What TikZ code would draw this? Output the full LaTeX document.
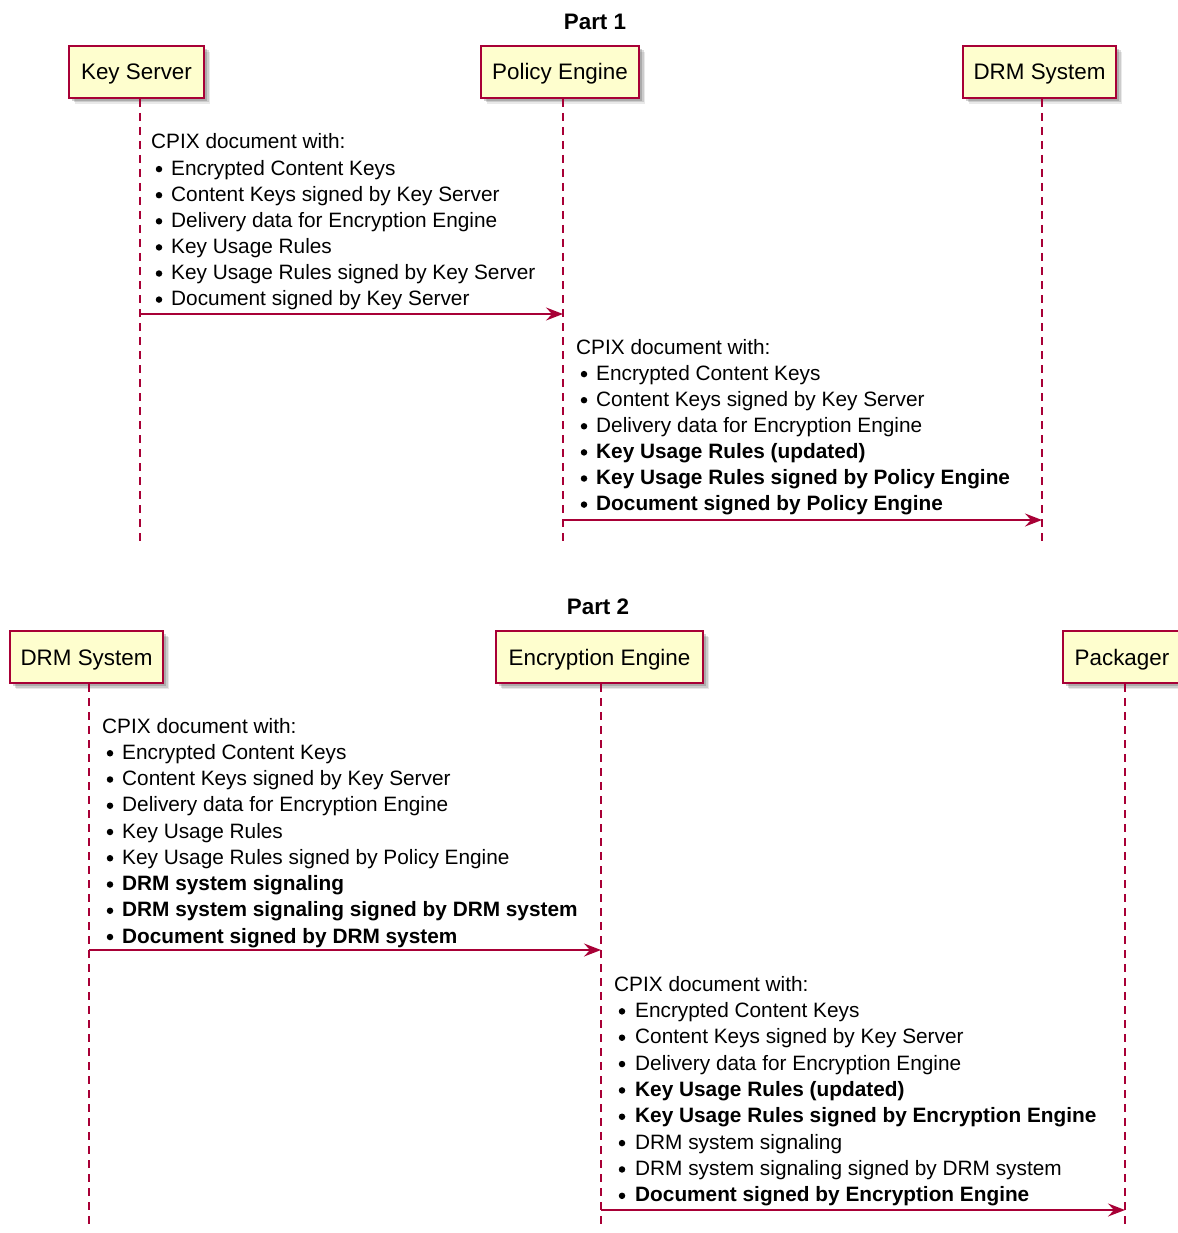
\documentclass[tikz,border=0pt]{standalone}
\usepackage{fontspec}
\setmainfont{Liberation Sans}
\usetikzlibrary{arrows.meta,shadows}
\definecolor{pborder}{HTML}{A80036}
\definecolor{pfill}{HTML}{FEFECE}
\begin{document}
\begin{tikzpicture}[x=1pt,y=-1pt,
 part/.style={draw=pborder, fill=pfill, line width=1.6pt, font=\fontsize{22.4}{26}\selectfont, inner sep=0pt,
   text height=16pt, text depth=0pt,
   drop shadow={shadow xshift=6pt, shadow yshift=-6pt, opacity=0.12, fill=black!70},
   drop shadow={shadow xshift=4.5pt, shadow yshift=-4.5pt, opacity=0.18, fill=black!70},
   drop shadow={shadow xshift=3pt, shadow yshift=-3pt, opacity=0.25, fill=black!70}},
 life/.style={draw=pborder, line width=1.4pt, dash pattern=on 8pt off 6pt},
 msg/.style={draw=pborder, line width=1.6pt, -{Stealth[length=17pt,width=13pt,inset=6pt]}},
 ttl/.style={font=\fontsize{22.4}{26}\selectfont\bfseries, inner sep=0pt},
 ln/.style={anchor=base west, inner sep=0pt, font=\fontsize{20.8}{26}\selectfont},
 bl/.style={anchor=base west, inner sep=0pt, font=\fontsize{20.8}{26}\selectfont\bfseries},
 dot/.style={fill=black, circle, inner sep=0pt, minimum size=6.5pt}
]
\useasboundingbox[fill=white] (0,0) rectangle (1177,1233);

% ---------- Part 1 ----------
\node[ttl] (t1) at (595,22) {Part 1};
\node[part, minimum width=135pt, minimum height=52pt] (ks) at (136.5,72) {Key Server};
\node[part, minimum width=158pt, minimum height=52pt] (pe) at (560,72) {Policy Engine};
\node[part, minimum width=153pt, minimum height=52pt] (drm1) at (1039.5,72) {DRM System};

\coordinate (ksT) at (140,99);  \coordinate (ksB) at (140,545);
\coordinate (peT) at (563,99);  \coordinate (peB) at (563,545);
\coordinate (d1T) at (1042,99); \coordinate (d1B) at (1042,545);
\draw[life] (ksT) -- (ksB);
\draw[life] (peT) -- (peB);
\draw[life] (d1T) -- (d1B);

% message 1
\node[ln] (m1h) at (151,149) {CPIX document with:};
\foreach \s/\t [count=\i] in {ln/Encrypted Content Keys, ln/Content Keys signed by Key Server, ln/Delivery data for Encryption Engine, ln/Key Usage Rules, ln/Key Usage Rules signed by Key Server, ln/Document signed by Key Server}{
  \node[\s] (m1t\i) at (171,149+26.1*\i) {\t};
  \node[dot] (m1b\i) at (159,143+26.1*\i) {};
}
\coordinate (m1s) at (140,314); \coordinate (m1e) at (563,314);
\draw[msg] (m1s) -- (m1e);

% message 2
\node[ln] (m2h) at (576,354) {CPIX document with:};
\foreach \s/\t [count=\i] in {ln/Encrypted Content Keys, ln/Content Keys signed by Key Server, ln/Delivery data for Encryption Engine, bl/Key Usage Rules (updated), bl/Key Usage Rules signed by Policy Engine, bl/Document signed by Policy Engine}{
  \node[\s] (m2t\i) at (596,354+26.1*\i) {\t};
  \node[dot] (m2b\i) at (584,348+26.1*\i) {};
}
\coordinate (m2s) at (563,520); \coordinate (m2e) at (1042,520);
\draw[msg] (m2s) -- (m2e);

% ---------- Part 2 ----------
\node[ttl] (t2) at (598,607) {Part 2};
\node[part, minimum width=153pt, minimum height=52pt] (drm2) at (86.5,657) {DRM System};
\node[part, minimum width=207pt, minimum height=52pt] (ee) at (599.5,657) {Encryption Engine};
\node[part, minimum width=118pt, minimum height=52pt] (pk) at (1122,657) {Packager};

\coordinate (d2T) at (89,684);   \coordinate (d2B) at (89,1228);
\coordinate (eeT) at (601,684);  \coordinate (eeB) at (601,1228);
\coordinate (pkT) at (1125,684); \coordinate (pkB) at (1125,1228);
\draw[life] (d2T) -- (d2B);
\draw[life] (eeT) -- (eeB);
\draw[life] (pkT) -- (pkB);

% message 3
\node[ln] (m3h) at (102,733) {CPIX document with:};
\foreach \s/\t [count=\i] in {ln/Encrypted Content Keys, ln/Content Keys signed by Key Server, ln/Delivery data for Encryption Engine, ln/Key Usage Rules, ln/Key Usage Rules signed by Policy Engine, bl/DRM system signaling, bl/DRM system signaling signed by DRM system, bl/Document signed by DRM system}{
  \node[\s] (m3t\i) at (122,733+26.25*\i) {\t};
  \node[dot] (m3b\i) at (110,727+26.25*\i) {};
}
\coordinate (m3s) at (89,950); \coordinate (m3e) at (601,950);
\draw[msg] (m3s) -- (m3e);

% message 4
\node[ln] (m4h) at (614,991) {CPIX document with:};
\foreach \s/\t [count=\i] in {ln/Encrypted Content Keys, ln/Content Keys signed by Key Server, ln/Delivery data for Encryption Engine, bl/Key Usage Rules (updated), bl/Key Usage Rules signed by Encryption Engine, ln/DRM system signaling, ln/DRM system signaling signed by DRM system, bl/Document signed by Encryption Engine}{
  \node[\s] (m4t\i) at (635,991+26.35*\i) {\t};
  \node[dot] (m4b\i) at (622,985+26.35*\i) {};
}
\coordinate (m4s) at (601,1210); \coordinate (m4e) at (1125,1210);
\draw[msg] (m4s) -- (m4e);
\end{tikzpicture}
\end{document}
